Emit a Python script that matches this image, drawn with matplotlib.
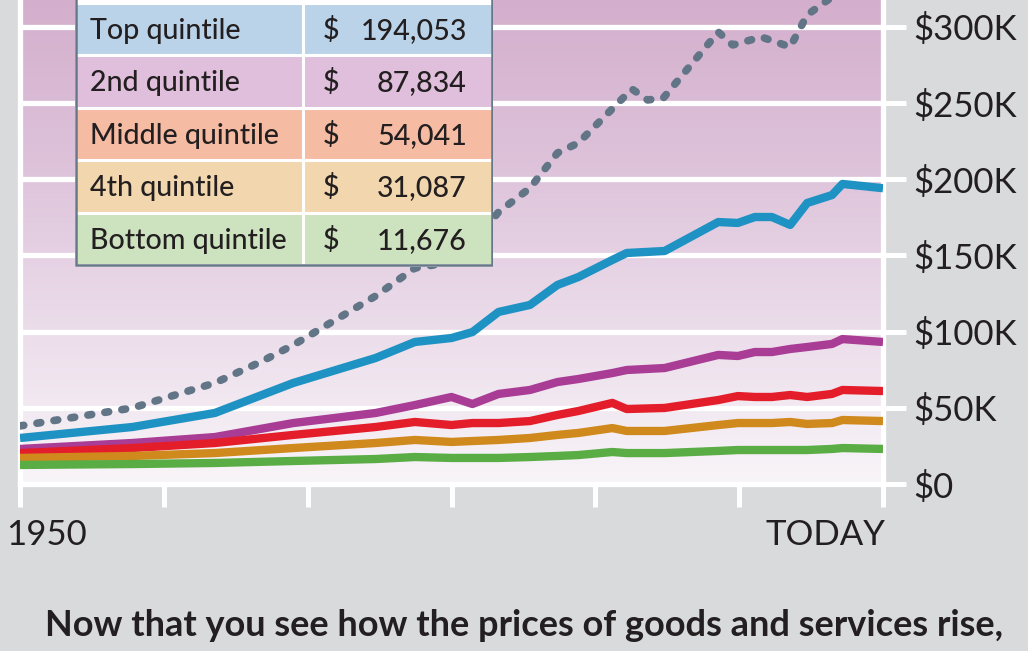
import numpy as np
import matplotlib
matplotlib.use("Agg")
import matplotlib.pyplot as plt
from matplotlib.patches import Rectangle
from matplotlib.colors import LinearSegmentedColormap
import matplotlib.transforms as mtransforms

# ---------------- data (values in $ thousands) ----------------
years = [1950.0, 1958.6, 1964.9, 1970.9, 1977.2, 1980.2, 1983.0, 1984.6, 1986.6,
         1989.0, 1991.1, 1992.7, 1995.3, 1996.4, 1999.3, 2003.4, 2004.9, 2006.2,
         2007.5, 2008.9, 2010.2, 2012.1, 2012.9, 2016.0]
top_q = [30.2, 37.4, 46.6, 66.3, 82.7, 93.2, 95.8, 99.7, 112.9, 117.5, 130.6, 135.8,
         147.0, 151.6, 152.9, 171.9, 171.3, 175.2, 175.2, 170.0, 184.4, 189.6, 196.9, 194.1]
second_q = [23.0, 26.9, 30.8, 40.0, 46.6, 51.8, 57.1, 52.5, 59.1, 61.7, 66.9, 68.9,
            72.8, 74.8, 76.1, 84.7, 84.0, 86.6, 86.6, 88.6, 89.9, 91.9, 95.1, 93.2]
middle_q = [20.3, 23.6, 26.9, 32.2, 37.4, 40.7, 38.7, 40.0, 40.0, 41.3, 45.3, 47.9,
            53.2, 49.2, 49.9, 55.1, 57.7, 57.1, 57.1, 58.4, 57.1, 59.1, 61.7, 61.0]
fourth_q = [17.1, 18.4, 20.3, 23.6, 26.9, 28.9, 27.6, 28.2, 28.9, 30.2, 32.2, 33.5,
            36.7, 34.8, 34.8, 38.7, 40.0, 40.0, 40.0, 40.7, 39.4, 40.0, 42.0, 41.3]
bottom_q = [12.5, 13.1, 13.8, 15.1, 16.4, 17.7, 17.1, 17.1, 17.1, 17.7, 18.4, 19.0,
            21.0, 20.3, 20.3, 21.7, 22.3, 22.3, 22.3, 22.3, 22.3, 23.0, 23.6, 23.0]

gray_years = [1950.0, 1958.6, 1964.9, 1968.4, 1970.9, 1977.2, 1980.2, 1983.0, 1984.6,
              1986.6, 1989.0, 1991.1, 1992.7, 1996.8, 1998.0, 1999.2, 2003.4, 2004.5,
              2006.7, 2008.9, 2010.2, 2012.1, 2012.9, 2016.0]
gray_vals = [38.1, 49.9, 66.3, 80.1, 91.2, 123.4, 141.7, 145.7, 156.8, 178.5, 194.2,
             217.2, 223.8, 259.2, 252.0, 253.3, 296.6, 288.1, 293.3, 286.8, 307.8,
             319.6, 330.7, 332.0]

x_ticks = [1950, 1961, 1972, 1983, 1994, 2005, 2016]
x_tick_labels = ["1950", "", "", "", "", "", "TODAY"]
y_ticks = [0, 50, 100, 150, 200, 250, 300]
y_tick_labels = ["$0", "$50K", "$100K", "$150K", "$200K", "$250K", "$300K"]

table_labels = ["Top quintile", "2nd quintile", "Middle quintile", "4th quintile", "Bottom quintile"]
table_values = ["194,053", "87,834", "54,041", "31,087", "11,676"]
table_colors = ["#bad3e8", "#dfbfdb", "#f6bba3", "#f2d6ae", "#cde2bf"]

caption = "Now that you see how the prices of goods and services rise,"

# ---------------- style ----------------
W, H = 1028, 651
BG = "#d9dadc"
TXT = "#231f20"
FONT = ["Lato", "DejaVu Sans"]
plt.rcParams["font.family"] = FONT

fig = plt.figure(figsize=(W / 100, H / 100), dpi=100, facecolor=BG)

ax_left, ax_right, ax_bottom_px = 20, 883, 484
ax = fig.add_axes([ax_left / W, (H - ax_bottom_px) / H, (ax_right - ax_left) / W, ax_bottom_px / H])
ymax = 317.6
xmin, xmax = 1950, 2016

# gradient background
cmap = LinearSegmentedColormap.from_list("bg", ["#f8f5f8", "#ebdcea", "#ddc2da", "#d4afcd"])
grad = np.linspace(0, 1, 256).reshape(-1, 1)
ax.imshow(grad, extent=[xmin, xmax, 0, ymax], origin="lower", aspect="auto",
          cmap=cmap, zorder=0, interpolation="bilinear")

lw = 6.0
ax.plot(years, top_q, color="#1f92c4", lw=lw, solid_capstyle="butt", zorder=3)
ax.plot(years, second_q, color="#a93c94", lw=lw, solid_capstyle="butt", zorder=3)
ax.plot(years, middle_q, color="#e31e2a", lw=lw, solid_capstyle="butt", zorder=3)
ax.plot(years, fourth_q, color="#d0891d", lw=lw, solid_capstyle="butt", zorder=3)
ax.plot(years, bottom_q, color="#5aac45", lw=lw, solid_capstyle="butt", zorder=3)
ax.plot(gray_years, gray_vals, color="#627587", lw=5.5, linestyle=(0, (0.5, 1.75)),
        dash_capstyle="round", zorder=4)

ax.set_xlim(xmin, xmax)
ax.set_ylim(0, ymax)
ax.set_facecolor("none")

# grid & spines
ax.yaxis.grid(True, color="white", lw=3.8, zorder=1)
ax.set_axisbelow(True)
ax.spines["top"].set_visible(False)
for s in ["left", "right", "bottom"]:
    ax.spines[s].set_color("white")
    ax.spines[s].set_linewidth(3.8)
    ax.spines[s].set_zorder(2)

ax.set_xticks(x_ticks)
ax.set_xticklabels(x_tick_labels)
ax.tick_params(axis="x", direction="out", length=16.5, width=3.6, color="white",
               labelsize=25, labelcolor=TXT, pad=9)
xlbls = ax.get_xticklabels()
xlbls[0].set_horizontalalignment("left")
xlbls[0].set_transform(xlbls[0].get_transform() + mtransforms.ScaledTranslation(-14 / 100, 0, fig.dpi_scale_trans))
xlbls[-1].set_horizontalalignment("right")
xlbls[-1].set_transform(xlbls[-1].get_transform() + mtransforms.ScaledTranslation(2 / 100, 0, fig.dpi_scale_trans))

ax.yaxis.tick_right()
ax.set_yticks(y_ticks)
ax.set_yticklabels(y_tick_labels)
ax.tick_params(axis="y", direction="out", length=16.5, width=3.6, color="white",
               labelsize=25, labelcolor=TXT, pad=5)

# ---------------- table ----------------
tx0, tx1, ty1 = 75, 493, 267
tab = fig.add_axes([tx0 / W, (H - ty1) / H, (tx1 - tx0) / W, ty1 / H])
tab.set_xlim(0, tx1 - tx0)
tab.set_ylim(ty1, 0)
tab.axis("off")
tw = tx1 - tx0
row_h = 52.4
y0 = 3.0
col_split = 228
tab.add_patch(Rectangle((0, -20), tw, 20 + y0, facecolor="white", edgecolor="none"))
for i, (lab, val, col) in enumerate(zip(table_labels, table_values, table_colors)):
    top = y0 + i * row_h
    tab.add_patch(Rectangle((0, top), col_split, row_h, facecolor=col, edgecolor="white", lw=2.2))
    tab.add_patch(Rectangle((col_split, top), tw - col_split, row_h, facecolor=col, edgecolor="white", lw=2.2))
    base = top + 36
    tab.text(15, base, lab, fontsize=20.6, fontweight="medium", color=TXT, ha="left", va="baseline")
    tab.text(248, base, "$", fontsize=20.6, fontweight="medium", color=TXT, ha="left", va="baseline")
    tab.text(392, base, val, fontsize=20.6, fontweight="medium", color=TXT, ha="right", va="baseline")
tab.add_patch(Rectangle((1, -20), tw - 2, ty1 + 20 - 2, facecolor="none", edgecolor="#667888", lw=1.8))

# ---------------- caption ----------------
fig.text(524 / W, (H - 636) / H, caption, ha="center", va="baseline", fontsize=26,
         fontweight="bold", color=TXT)

fig.savefig("out.png", dpi=100, facecolor=BG)
